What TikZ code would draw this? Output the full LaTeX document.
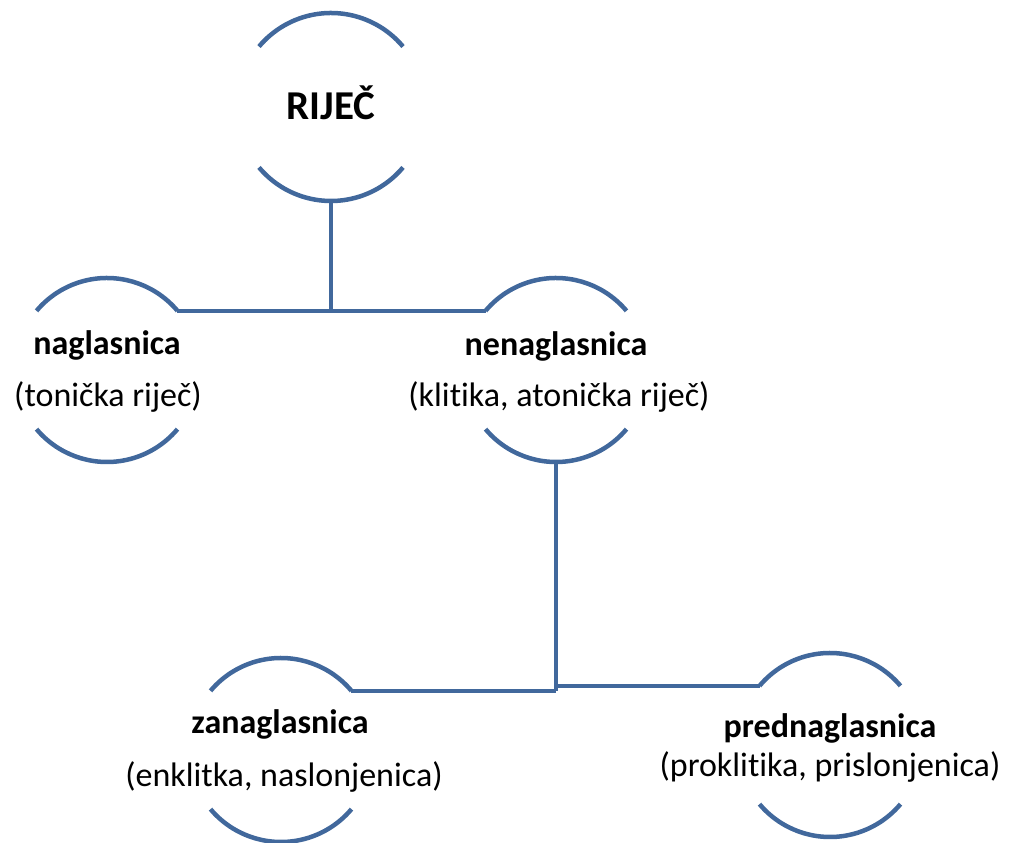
\documentclass[tikz,border=0pt]{standalone}
\usepackage{fontspec}
\setmainfont[Ligatures=CommonOff]{Carlito}
\definecolor{linec}{HTML}{41689C}
\begin{document}
\begin{tikzpicture}[x=1pt,y=1pt,
  ring/.style={circle, inner sep=0pt, outer sep=0pt, minimum size=#1},
  arcline/.style={draw=linec, line width=4.5pt},
  conn/.style={draw=linec, line width=4.5pt},
  head/.style={font=\fontsize{34}{40}\selectfont\bfseries, anchor=base, inner sep=0pt},
  sub/.style={font=\fontsize{34}{40}\selectfont, anchor=base, inner sep=0pt},
  top/.style={font=\fontsize{41}{48}\selectfont\bfseries, anchor=base, inner sep=0pt}]
\useasboundingbox (0,0) rectangle (1010,843);
% rings
\node[ring=188pt] (c0) at (331,736) {};
\node[ring=184pt] (c1) at (107,473) {};
\node[ring=184pt] (c2) at (556,473) {};
\node[ring=184pt] (c3) at (281,93) {};
\node[ring=184pt] (c4) at (830,98) {};
\draw[arcline] (c0.40) arc[start angle=40,end angle=140,radius=94pt];
\draw[arcline] (c0.220) arc[start angle=220,end angle=320,radius=94pt];
\foreach \n in {c1,c2,c3,c4}{
  \draw[arcline] (\n.40) arc[start angle=40,end angle=140,radius=92pt];
  \draw[arcline] (\n.220) arc[start angle=220,end angle=320,radius=92pt];
}
% texts
\node[top] (t0) at (331,723) {RIJEČ};
\node[head] (t1) at (107,488) {naglasnica};
\node[sub] (s1) at (108,436) {(tonička riječ)};
\node[head] (t2) at (556,487) {nenaglasnica};
\node[sub] (s2) at (559,436) {(klitika, atonička riječ)};
\node[head] (t3) at (280,109) {zanaglasnica};
\node[sub] (s3) at (284,56) {(enklitka, naslonjenica)};
\node[head] (t4) at (830,105) {prednaglasnica};
\node[sub] (s4) at (830,66) {(proklitika, prislonjenica)};
% connectors
\coordinate (j1) at (c0.south |- c1.40);
\coordinate (j2) at (c2.south |- c3.40);
\coordinate (j3) at (c2.south |- c4.140);
\draw[conn] (c0.south) -- (j1);
\draw[conn] (c1.40) -- (c2.140);
\draw[conn] (c2.south) -- (j2);
\draw[conn] (c3.40) -- (j2);
\draw[conn] (j3) -- (c4.140);
\end{tikzpicture}
\end{document}
